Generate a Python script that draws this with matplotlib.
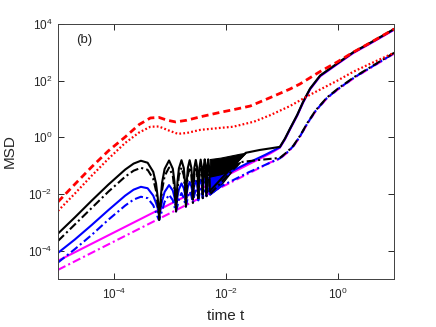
import numpy as np
import matplotlib.pyplot as plt
from matplotlib.ticker import NullLocator

plt.rcParams['font.family'] = ['Liberation Sans', 'DejaVu Sans']
plt.rcParams['mathtext.fontset'] = 'custom'
plt.rcParams['mathtext.rm'] = 'Liberation Sans'
plt.rcParams['mathtext.it'] = 'Liberation Sans:italic'

# ---- data (log10 values) ----
# first arch, common time grid (log10 t)
arch_logt = [-5.0, -4.7, -4.4, -4.1, -3.8, -3.65, -3.52, -3.40, -3.30, -3.25, -3.22]
# later oscillations, one row per period (t)
osc_t = [6.4e-4, 7.2e-4, 8.0e-4, 9.6e-4, 1.12e-3, 1.20e-3,
         1.28e-3, 1.36e-3, 1.44e-3, 1.60e-3, 1.76e-3, 1.84e-3,
         1.92e-3, 2.00e-3, 2.08e-3, 2.24e-3, 2.40e-3, 2.48e-3,
         2.56e-3, 2.64e-3, 2.72e-3, 2.88e-3, 3.04e-3, 3.12e-3,
         3.20e-3, 3.28e-3, 3.36e-3, 3.52e-3, 3.68e-3, 3.76e-3,
         3.84e-3, 3.92e-3, 4.00e-3, 4.16e-3, 4.32e-3, 4.40e-3,
         4.48e-3, 4.56e-3, 4.64e-3, 4.80e-3, 4.96e-3, 5.04e-3,
         5.12e-3]

# black solid
k_arch = [-3.40, -2.83, -2.24, -1.67, -1.14, -0.93, -0.83, -0.90, -1.22, -1.63, -2.12]
k_osc = [-2.80, -1.61, -1.12, -0.82, -1.11, -1.57,
         -2.50, -1.56, -1.10, -0.81, -1.09, -1.53,
         -2.33, -1.52, -1.08, -0.81, -1.08, -1.49,
         -2.20, -1.48, -1.07, -0.80, -1.06, -1.45,
         -2.10, -1.45, -1.06, -0.79, -1.05, -1.42,
         -2.03, -1.41, -1.04, -0.78, -1.04, -1.39,
         -1.96, -1.38, -1.03, -0.78, -1.02, -1.36,
         -1.90]
k_band_logt = [-2.29, -2.1, -1.9, -1.75, -1.65]
k_band_top = [-0.77, -0.72, -0.64, -0.58, -0.55]
k_band_bot = [-1.90, -1.55, -1.05, -0.75, -0.55]
k_late_logt = [-1.65, -1.4, -1.2]
k_late = [-0.55, -0.45, -0.39]

# black dash-dot
kd_arch = [-3.66, -3.08, -2.50, -1.92, -1.39, -1.18, -1.08, -1.15, -1.47, -1.89, -2.39]
kd_osc = [-2.92, -1.87, -1.37, -1.07, -1.36, -1.84,
          -2.62, -1.83, -1.35, -1.07, -1.35, -1.80,
          -2.45, -1.79, -1.34, -1.06, -1.34, -1.76,
          -2.32, -1.75, -1.33, -1.05, -1.32, -1.73,
          -2.23, -1.72, -1.32, -1.05, -1.31, -1.70,
          -2.15, -1.69, -1.31, -1.04, -1.30, -1.67,
          -2.08, -1.67, -1.29, -1.03, -1.29, -1.65,
          -2.02]
kd_band_logt = [-2.29, -2.1, -1.9, -1.75]
kd_band_top = [-1.03, -1.00, -0.93, -0.88]
kd_band_bot = [-2.02, -1.70, -1.20, -0.88]
kd_late_logt = [-1.75, -1.4]
kd_late = [-0.88, -0.80]

# blue solid
b_arch = [-4.08, -3.61, -3.10, -2.57, -2.06, -1.85, -1.75, -1.80, -2.06, -2.32, -2.50]
b_osc = [-2.80, -2.26, -1.93, -1.69, -1.88, -2.12,
         -2.50, -2.08, -1.84, -1.63, -1.80, -1.98,
         -2.33, -1.95, -1.76, -1.58, -1.73, -1.88,
         -2.20, -1.86, -1.70, -1.54, -1.67, -1.80,
         -2.10, -1.78, -1.64, -1.50, -1.62, -1.73,
         -2.03, -1.71, -1.59, -1.46, -1.57, -1.66,
         -1.96, -1.65, -1.55, -1.43, -1.53, -1.61,
         -1.90]
b_band_logt = [-2.29, -2.1, -1.95]
b_band_top = [-1.43, -1.35, -1.25]
b_band_bot = [-1.90, -1.62, -1.25]
b_late_logt = [-1.95, -1.6, -1.3]
b_late = [-1.25, -0.90, -0.62]

# blue dash-dot
bd_arch = [-4.42, -3.95, -3.45, -2.91, -2.41, -2.20, -2.10, -2.15, -2.40, -2.65, -2.82]
bd_osc = [-2.92, -2.59, -2.28, -2.03, -2.22, -2.45,
          -2.62, -2.41, -2.18, -1.97, -2.14, -2.31,
          -2.45, -2.28, -2.10, -1.92, -2.06, -2.20,
          -2.32, -2.18, -2.03, -1.88, -2.00, -2.12,
          -2.23, -2.10, -1.97, -1.83, -1.95, -2.05,
          -2.15, -2.03, -1.92, -1.80, -1.90, -1.99,
          -2.08, -1.97, -1.88, -1.76, -1.85, -1.94,
          -2.02]
bd_band_logt = [-2.29, -2.1]
bd_band_top = [-1.76, -1.74]
bd_band_bot = [-2.02, -1.74]
bd_late_logt = [-2.1, -1.6]
bd_late = [-1.74, -1.24]

# magenta (straight diffusive lines)
m_logt = [-5.0, -1.2]
m_solid = [-4.36, -0.56]
m_dashdot = [-4.68, -0.88]

# long-time bundles (solid curves -> upper, dash-dot curves -> lower)
up_logt = [-1.04, -0.95, -0.86, -0.73, -0.625, -0.50, -0.32, -0.02, 0.27, 0.57, 1.0]
up_msd = [-0.34, -0.05, 0.30, 0.79, 1.25, 1.72, 2.18, 2.60, 3.00, 3.33, 3.82]
lo_logt = [-1.04, -0.91, -0.80, -0.68, -0.55, -0.40, -0.2, 0.0, 0.3, 0.6, 1.0]
lo_msd = [-0.73, -0.52, -0.30, 0.05, 0.50, 0.95, 1.40, 1.72, 2.14, 2.50, 2.98]

# red curves
rd_logt = [-5.0, -4.7, -4.4, -4.1, -3.8, -3.55, -3.35, -3.2, -3.05, -2.9, -2.7, -2.46,
           -2.1, -1.875, -1.57, -1.21, -0.86, -0.68, -0.32, -0.02, 0.27, 0.57, 1.0]
rd_msd = [-2.28, -1.66, -1.05, -0.48, 0.01, 0.45, 0.68, 0.70, 0.60, 0.54, 0.60, 0.72,
          0.88, 0.97, 1.10, 1.40, 1.70, 1.88, 2.32, 2.65, 3.00, 3.33, 3.82]
rp_logt = [-5.0, -4.7, -4.4, -4.1, -3.8, -3.55, -3.35, -3.2, -3.0, -2.86, -2.7, -2.46,
           -2.1, -1.875, -1.5, -1.21, -0.86, -0.5, -0.02, 0.27, 0.57, 1.0]
rp_msd = [-2.60, -1.99, -1.36, -0.76, -0.20, 0.17, 0.37, 0.38, 0.22, 0.12, 0.15, 0.26,
          0.33, 0.37, 0.55, 0.78, 1.10, 1.50, 1.99, 2.31, 2.59, 2.98]

MAGENTA = '#FF00FF'


def curve(arch, osc, late_logt, late, bund_logt, bund, shift=0.0):
    lt = list(arch_logt) + list(np.log10(osc_t)) + list(late_logt) + list(bund_logt)
    lm = list(arch) + list(osc) + list(late) + [v + shift for v in bund]
    return 10.0 ** np.array(lt), 10.0 ** np.array(lm)


def band(ax, lt, bot, top, color, z):
    ax.fill_between(10.0 ** np.array(lt), 10.0 ** np.array(bot), 10.0 ** np.array(top),
                    color=color, lw=0.8, zorder=z)


fig = plt.figure(figsize=(4.36, 3.27), dpi=100)
ax = fig.add_axes([0.133, 0.147, 0.771, 0.78])
ax.set_xscale('log')
ax.set_yscale('log')

lw = 1.5
dd = (4, 1.5, 1, 1.5)

# magenta
x = 10.0 ** np.array(m_logt + up_logt)
ax.plot(x, 10.0 ** np.array(m_solid + [v - 0.03 for v in up_msd]), color=MAGENTA, lw=lw, zorder=2.1)
x = 10.0 ** np.array(m_logt + lo_logt)
ax.plot(x, 10.0 ** np.array(m_dashdot + [v - 0.03 for v in lo_msd]), color=MAGENTA, lw=lw,
        dashes=dd, zorder=2.1)

# black bands + lines
band(ax, k_band_logt, k_band_bot, k_band_top, 'k', 2.2)
band(ax, kd_band_logt, kd_band_bot, kd_band_top, 'k', 2.2)
t, m = curve(k_arch, k_osc, k_late_logt, k_late, up_logt, up_msd)
ax.plot(t, m, color='k', lw=lw, zorder=2.3)
t, m = curve(kd_arch, kd_osc, kd_late_logt, kd_late, lo_logt, lo_msd)
ax.plot(t, m, color='k', lw=lw, dashes=dd, zorder=2.3)

# blue bands + lines
band(ax, b_band_logt, b_band_bot, b_band_top, 'b', 2.25)
band(ax, bd_band_logt, bd_band_bot, bd_band_top, 'b', 2.25)
t, m = curve(b_arch, b_osc, b_late_logt, b_late, up_logt, up_msd, shift=-0.015)
ax.plot(t, m, color='b', lw=lw, zorder=2.2)
t, m = curve(bd_arch, bd_osc, bd_late_logt, bd_late, lo_logt, lo_msd, shift=-0.015)
ax.plot(t, m, color='b', lw=lw, dashes=dd, zorder=2.2)

# red
ax.plot(10.0 ** np.array(rd_logt), 10.0 ** np.array(rd_msd), color='r', lw=2.0,
        dashes=(2.5, 1.5), zorder=2.4)
ax.plot(10.0 ** np.array(rp_logt), 10.0 ** np.array(rp_msd), color='r', lw=1.6,
        dashes=(0.8, 1.0), zorder=2.4)

ax.set_xlim(1e-5, 1e1)
ax.set_ylim(1e-5, 1e4)
ax.set_xticks([1e-4, 1e-2, 1e0])
ax.set_yticks([1e-4, 1e-2, 1e0, 1e2, 1e4])
ax.xaxis.set_minor_locator(NullLocator())
ax.yaxis.set_minor_locator(NullLocator())
ax.tick_params(direction='in', top=True, right=True, length=4, width=0.7,
               colors='#262626', labelsize=8.5)
ax.tick_params(axis='x', pad=6)
ax.tick_params(axis='y', pad=4)
for s in ax.spines.values():
    s.set_color('#404040')
    s.set_linewidth(0.7)

ax.set_xlabel('time t', fontsize=11, color='#262626', labelpad=5)
ax.set_ylabel('MSD', fontsize=11, color='#262626', labelpad=8)
ax.text(0.054, 0.937, '(b)', transform=ax.transAxes, fontsize=9.5,
        color='#262626', ha='left', va='center')

fig.savefig('out.png', dpi=100)
